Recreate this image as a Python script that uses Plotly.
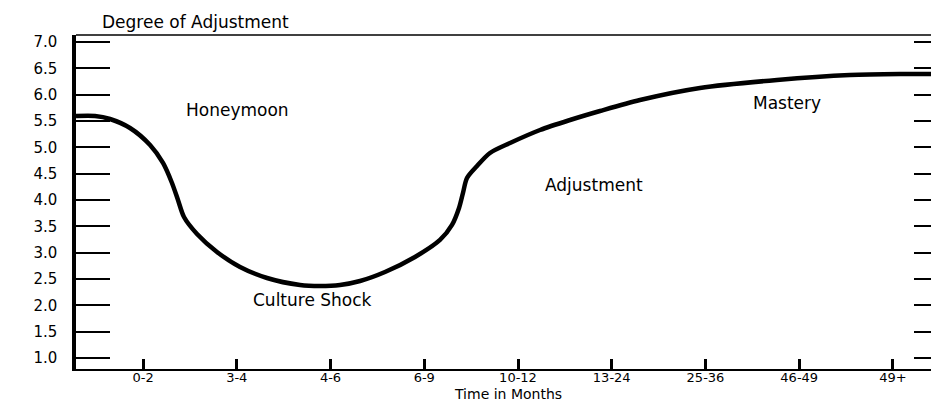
import plotly.graph_objects as go

# Tick labels (categories along the time axis)
time_labels = ["0-2", "3-4", "4-6", "6-9", "10-12", "13-24", "25-36", "46-49", "49+"]
time_pos = list(range(len(time_labels)))

# Y ticks
y_ticks = [1.0, 1.5, 2.0, 2.5, 3.0, 3.5, 4.0, 4.5, 5.0, 5.5, 6.0, 6.5, 7.0]

# Curve: position along the category axis (category index units) and degree of adjustment
curve_x = [-0.715, -0.512, -0.352, -0.139, 0.075, 0.213, 0.309, 0.373, 0.437, 0.576, 0.789,
           1.035, 1.323, 1.675, 1.888, 2.101, 2.315, 2.581, 2.901, 3.168, 3.296, 3.371,
           3.413, 3.456, 3.563, 3.701, 3.915, 4.235, 4.555, 4.875, 5.301, 5.941, 6.763,
           7.541, 8.075, 8.491]
curve_y = [5.595, 5.595, 5.538, 5.367, 5.044, 4.703, 4.323, 4.000, 3.677, 3.355, 3.013,
           2.728, 2.519, 2.386, 2.367, 2.386, 2.462, 2.633, 2.918, 3.241, 3.526, 3.848,
           4.133, 4.418, 4.646, 4.893, 5.082, 5.329, 5.519, 5.690, 5.899, 6.127, 6.279,
           6.373, 6.392, 6.392]

# Phase labels
phase_names = ["Honeymoon", "Culture Shock", "Adjustment", "Mastery"]
phase_x = [1.003, 1.813, 4.81, 6.869]
phase_y = [5.709, 2.10, 4.285, 5.842]

FONT = "DejaVu Sans"

fig = go.Figure()
fig.add_trace(go.Scatter(
    x=curve_x, y=curve_y, mode="lines",
    line=dict(color="black", width=4.5, shape="spline", smoothing=0.8),
    hoverinfo="skip", showlegend=False,
))
# invisible trace to anchor right-side ticks
fig.add_trace(go.Scatter(x=[curve_x[0]], y=[curve_y[0]], yaxis="y2", mode="markers",
                         marker=dict(opacity=0), showlegend=False, hoverinfo="skip"))

for name, xx, yy in zip(phase_names, phase_x, phase_y):
    fig.add_annotation(x=xx, y=yy, text=name, showarrow=False,
                       xanchor="center", yanchor="middle",
                       font=dict(family=FONT, size=17, color="black"))

fig.add_annotation(x=0.139, y=1.038, xref="paper", yref="paper", text="Degree of Adjustment",
                   showarrow=False, xanchor="center", yanchor="middle",
                   font=dict(family=FONT, size=17, color="black"))
fig.add_annotation(x=0.5006, y=-0.1018, xref="paper", yref="paper", text="Time in Months",
                   showarrow=False, xanchor="center", yanchor="bottom", borderpad=0,
                   font=dict(family=FONT, size=14, color="black"))

fig.add_shape(type="line", xref="paper", yref="paper", x0=0, x1=1, y0=1, y1=1,
              line=dict(color="black", width=1.5))

fig.update_layout(
    width=931, height=395,
    margin=dict(l=68, r=0, t=27, b=34),
    paper_bgcolor="white", plot_bgcolor="white",
    xaxis=dict(
        range=[-0.715, 8.491], tickmode="array", tickvals=time_pos, ticktext=time_labels,
        ticks="inside", ticklen=10, tickwidth=3, tickcolor="black",
        showline=True, linecolor="black", linewidth=2, showgrid=False, zeroline=False,
        tickfont=dict(family=FONT, size=13, color="black"), ticklabelstandoff=-5,
    ),
    yaxis=dict(
        range=[0.791, 7.133], tickmode="array", tickvals=y_ticks,
        ticktext=[f"{v:.1f}" for v in y_ticks],
        ticks="inside", ticklen=34, tickwidth=2, tickcolor="black",
        showline=True, linecolor="black", linewidth=3.5, showgrid=False, zeroline=False,
        tickfont=dict(family=FONT, size=15, color="black"), ticklabelstandoff=12,
    ),
    yaxis2=dict(
        range=[0.791, 7.133], overlaying="y", side="right", tickmode="array", tickvals=y_ticks,
        ticks="inside", ticklen=25, tickwidth=2, tickcolor="black",
        showline=False, showgrid=False, zeroline=False, showticklabels=False,
    ),
)

fig.write_html("out.html")
